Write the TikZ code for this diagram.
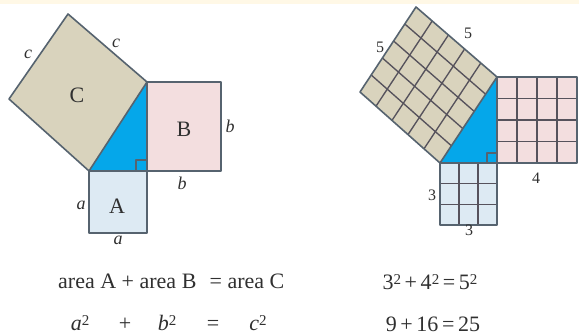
\documentclass[tikz,border=0pt]{standalone}
\usepackage{fontspec}
\setmainfont{Liberation Serif}
\usetikzlibrary{calc}
\definecolor{edgecol}{HTML}{56636F}
\definecolor{gridcol}{HTML}{56525C}
\definecolor{tanfill}{HTML}{D9D3BD}
\definecolor{pinkfill}{HTML}{F3DEDF}
\definecolor{bluefill}{HTML}{DDEAF3}
\definecolor{trifill}{HTML}{05A7EA}
\definecolor{txtcol}{HTML}{303030}
\definecolor{creamcol}{HTML}{FFF8E6}
\newcommand\supsq{\raisebox{5pt}{\fontsize{15pt}{15pt}\selectfont 2}}
\begin{document}
\begin{tikzpicture}[x=1pt,y=-1pt,
  outline/.style={draw=edgecol,line width=1.6pt,line join=round},
  gridline/.style={draw=gridcol,line width=1.35pt},
  biglbl/.style={text=txtcol,font=\fontsize{22pt}{24pt}\selectfont,inner sep=0pt},
  smlbl/.style={text=txtcol,font=\fontsize{18pt}{20pt}\selectfont\itshape,inner sep=0pt},
  numlbl/.style={text=txtcol,font=\fontsize{16pt}{18pt}\selectfont,inner sep=0pt},
  eqtxt/.style={text=txtcol,font=\fontsize{22pt}{24pt}\selectfont,inner sep=0pt}]
\useasboundingbox (0,0) rectangle (579,336);
\fill[white] (0,0) rectangle (579,336);
\fill[creamcol] (0,0) rectangle (579,4);

% ---------- left figure ----------
\coordinate (La) at (89,171);
\coordinate (Lr) at (147,171);
\coordinate (Lt) at (147,82);
\coordinate (Lc1) at (68,14);
\coordinate (Lc2) at (9,99);
\coordinate (Lb1) at (221,82);
\coordinate (Lb2) at (221,171);
\coordinate (La1) at (147,233);
\coordinate (La2) at (89,233);

\fill[tanfill] (La) -- (Lt) -- (Lc1) -- (Lc2) -- cycle;
\fill[pinkfill] (Lt) -- (Lb1) -- (Lb2) -- (Lr) -- cycle;
\fill[bluefill] (La) -- (Lr) -- (La1) -- (La2) -- cycle;
\fill[trifill] (La) -- (Lr) -- (Lt) -- cycle;
\draw[outline] (La) -- (Lt) -- (Lc1) -- (Lc2) -- cycle;
\draw[outline] (Lt) -- (Lb1) -- (Lb2) -- (Lr) -- cycle;
\draw[outline] (La) -- (Lr) -- (La1) -- (La2) -- cycle;
\draw[outline,line width=1.2pt] ($(Lr)+(-11,0)$) -- ($(Lr)+(-11,-11)$) -- ($(Lr)+(0,-11)$);

\node[smlbl] (lc1) at (28,54) {c};
\node[smlbl] (lc2) at (116,43) {c};
\node[biglbl] (lC) at (77,95) {C};
\node[biglbl] (lB) at (184,129) {B};
\node[smlbl] (lb1) at (230,126) {b};
\node[smlbl] (lb2) at (182,183) {b};
\node[smlbl] (la1) at (81,205) {a};
\node[biglbl] (lA) at (117,206) {A};
\node[smlbl] (la2) at (118,240) {a};

% ---------- right figure ----------
\coordinate (Ra) at (440,163);
\coordinate (Rr) at (497,163);
\coordinate (Rt) at (497,77);
\coordinate (Rc1) at (416,7);
\coordinate (Rc2) at (360,92);
\coordinate (Rb1) at (577,77);
\coordinate (Rb2) at (577,163);
\coordinate (Ra1) at (497,225);
\coordinate (Ra2) at (440,225);

\fill[tanfill] (Ra) -- (Rt) -- (Rc1) -- (Rc2) -- cycle;
\fill[pinkfill] (Rt) -- (Rb1) -- (Rb2) -- (Rr) -- cycle;
\fill[bluefill] (Ra) -- (Rr) -- (Ra1) -- (Ra2) -- cycle;
\fill[trifill] (Ra) -- (Rr) -- (Rt) -- cycle;

\foreach \i in {1,...,4} {
  \draw[gridline] ($(Ra)!\i/5!(Rc2)$) -- ($(Rt)!\i/5!(Rc1)$);
  \draw[gridline] ($(Ra)!\i/5!(Rt)$) -- ($(Rc2)!\i/5!(Rc1)$);
}
\foreach \i in {1,...,3} {
  \draw[gridline] ($(Rt)!\i/4!(Rb1)$) -- ($(Rr)!\i/4!(Rb2)$);
  \draw[gridline] ($(Rt)!\i/4!(Rr)$) -- ($(Rb1)!\i/4!(Rb2)$);
}
\foreach \i in {1,2} {
  \draw[gridline] ($(Ra)!\i/3!(Rr)$) -- ($(Ra2)!\i/3!(Ra1)$);
  \draw[gridline] ($(Ra)!\i/3!(Ra2)$) -- ($(Rr)!\i/3!(Ra1)$);
}
\draw[outline] (Ra) -- (Rt) -- (Rc1) -- (Rc2) -- cycle;
\draw[outline] (Rt) -- (Rb1) -- (Rb2) -- (Rr) -- cycle;
\draw[outline] (Ra) -- (Rr) -- (Ra1) -- (Ra2) -- cycle;
\draw[outline,line width=1.2pt] ($(Rr)+(-10,0)$) -- ($(Rr)+(-10,-10)$) -- ($(Rr)+(0,-10)$);

\node[numlbl] (r5a) at (380,47) {5};
\node[numlbl] (r5b) at (468,33) {5};
\node[numlbl] (r4) at (536,178) {4};
\node[numlbl] (r3a) at (432,195) {3};
\node[numlbl] (r3b) at (469,230) {3};

% ---------- equations ----------
\node[eqtxt,anchor=base west] (eq1) at (58,289) {area A + area B\hspace{0.6em}= area C};
\node[eqtxt,anchor=base] (ea) at (80,331) {\textit{a}\supsq};
\node[eqtxt,anchor=base] (ep) at (125,331) {+};
\node[eqtxt,anchor=base] (eb) at (167,331) {\textit{b}\supsq};
\node[eqtxt,anchor=base] (ee) at (213,331) {=};
\node[eqtxt,anchor=base] (ec) at (258,331) {\textit{c}\supsq};
\node[eqtxt,anchor=base] (eq3) at (430,290) {3\supsq\,+\,4\supsq\,=\,5\supsq};
\node[eqtxt,anchor=base] (eq4) at (433,332) {9\,+\,16\,=\,25};
\end{tikzpicture}
\end{document}
